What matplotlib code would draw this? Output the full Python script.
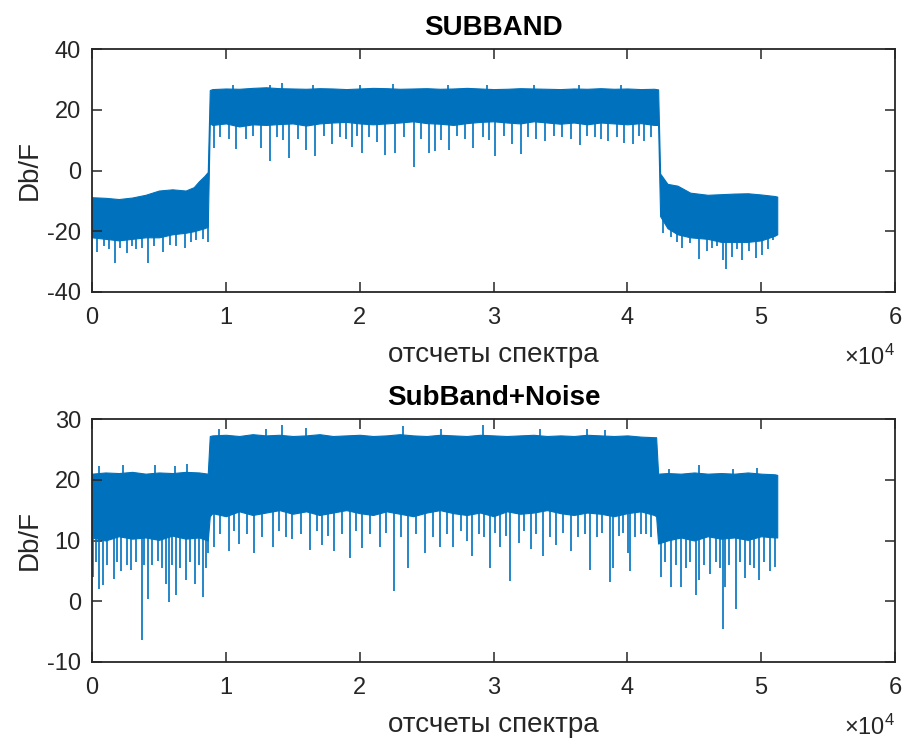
import numpy as np
import matplotlib
matplotlib.use("Agg")
import matplotlib.pyplot as plt

plt.rcParams['font.family'] = ['Liberation Sans', 'DejaVu Sans']
plt.rcParams['mathtext.fontset'] = 'custom'
plt.rcParams['mathtext.rm'] = 'Liberation Sans'
plt.rcParams['mathtext.it'] = 'Liberation Sans'
plt.rcParams['axes.unicode_minus'] = False

# ---------------- data (sample index -> dB) ----------------
N_SAMPLES = 51200

# SUBBAND panel: envelope knots of the dense trace
sub_x = [0, 1000, 2000, 3000, 4000, 5000, 6000, 7000, 7600, 8000, 8400, 8650,
         8800, 9000, 10000, 11000, 12000, 13000, 14000, 15000, 16000, 17000, 18000,
         19000, 20000, 21000, 22000, 23000, 24000, 25000, 26000, 27000, 28000,
         29000, 30000, 31000, 32000, 33000, 34000, 35000, 36000, 37000, 38000,
         39000, 40000, 41000, 42000, 42300,
         42450, 43000, 43750, 44700, 46000, 47000, 48000, 49000, 50000, 51000, 51200]
sub_hi = [-8.8, -9.0, -9.4, -8.9, -8.0, -6.6, -6.2, -6.6, -5.5, -3.5, -1.8, -0.5,
          26.5, 26.8, 27.0, 26.9, 27.2, 27.4, 27.1, 27.0, 26.9, 27.1, 27.0,
          26.8, 27.0, 27.2, 27.1, 26.9, 27.0, 27.1, 26.9, 27.0, 27.2,
          27.0, 26.8, 26.9, 27.1, 27.0, 26.9, 26.8, 27.0, 26.9, 27.1,
          26.9, 27.0, 26.8, 26.9, 26.7,
          -1.0, -4.4, -5.0, -7.3, -8.0, -7.8, -7.6, -7.5, -7.9, -8.4, -8.6]
sub_lo = [-22.0, -22.5, -23.0, -22.5, -22.0, -22.0, -21.0, -20.5, -20.0, -19.5, -19.0, -18.5,
          15.5, 15.0, 15.5, 14.5, 15.2, 15.0, 15.3, 15.5, 14.8, 15.5, 15.8,
          16.0, 15.5, 15.2, 15.5, 15.8, 16.2, 15.6, 15.4, 15.0, 15.6,
          16.0, 16.2, 15.8, 15.5, 16.2, 15.8, 15.4, 15.8, 15.2, 15.8,
          15.5, 15.2, 15.6, 15.0, 15.0,
          -15.0, -19.0, -21.0, -22.0, -22.5, -23.5, -23.5, -23.5, -23.0, -21.5, -21.0]
# downward spikes (sample, dB)
sub_dip_x = [400, 900, 1300, 1710, 2100, 2580, 3000, 3300, 3700, 4190, 4600, 5310,
             5800, 6300, 6920, 7400, 7800, 8300, 8660,
             9150, 9600, 10200, 10770, 11500, 12000, 12630, 13290, 13800, 14300, 14730,
             15400, 15970, 16670, 17300, 17940, 18500, 19000, 19420, 19800,
             20140, 20700, 21260, 21930, 22670, 23300, 24080, 24600, 25200, 25650,
             26100, 26640, 27300, 27900, 28500, 29200, 29700, 30110, 30800,
             31400, 32070, 32600, 33200, 33830, 34500, 35100, 35800, 36480, 37000,
             37600, 38000, 38540, 39200, 39780, 40400, 40900, 41270, 41800,
             42630, 43250, 43700, 44120, 44700, 45360, 45980, 46300, 46680, 47150,
             47350, 47840, 48200, 48590, 49100, 49580, 50070, 50500, 50890]
sub_dip_y = [-26.7, -25.0, -26.0, -30.5, -25.5, -27.3, -25.0, -26.0, -25.5, -30.5, -25.0, -26.7,
             -24.5, -25.0, -25.4, -23.5, -23.0, -22.5, -23.5,
             7.4, 11.0, 10.5, 7.2, 10.5, 11.5, 7.4, 3.2, 11.0, 10.0, 4.2,
             10.5, 6.8, 4.9, 11.5, 8.8, 11.0, 10.5, 7.6, 11.5,
             5.6, 11.0, 9.3, 5.2, 5.7, 11.0, 1.1, 10.5, 5.7, 6.4,
             10.0, 6.7, 11.5, 10.5, 7.4, 11.0, 10.0, 4.9, 11.5,
             8.8, 5.4, 11.0, 10.5, 9.8, 11.5, 11.0, 10.5, 8.5, 11.5,
             11.0, 10.5, 9.6, 11.0, 9.2, 8.8, 11.5, 9.8, 11.0,
             -20.7, -21.8, -23.5, -25.6, -24.0, -29.2, -26.4, -25.5, -24.9, -29.4,
             -32.5, -28.4, -26.0, -29.4, -26.5, -28.9, -27.8, -26.0, -22.9]
# upward spikes (sample, dB)
sub_pk_x = [10500, 13300, 14200, 16500, 20000, 22500, 26600, 29500, 33000, 36400, 39500]
sub_pk_y = [28.0, 28.3, 28.8, 28.2, 28.0, 28.5, 28.0, 28.2, 28.0, 28.0, 28.2]

# SubBand+Noise panel
noi_x = [0, 1000, 2000, 3000, 4000, 5000, 6000, 7000, 8000, 8650,
         8800, 9000, 10000, 11000, 12000, 13000, 14000, 15000, 16000, 17000, 18000,
         19000, 20000, 21000, 22000, 23000, 24000, 25000, 26000, 27000, 28000,
         29000, 30000, 31000, 32000, 33000, 34000, 35000, 36000, 37000, 38000,
         39000, 40000, 41000, 42000, 42150,
         42300, 43000, 44000, 45000, 46000, 47000, 48000, 49000, 50000, 51000, 51200]
noi_hi = [21.0, 21.2, 21.1, 21.3, 21.0, 21.2, 21.1, 21.3, 21.2, 21.0,
          27.2, 27.3, 27.4, 27.2, 27.5, 27.3, 27.4, 27.2, 27.3, 27.5, 27.2,
          27.3, 27.4, 27.2, 27.3, 27.5, 27.3, 27.2, 27.4, 27.3, 27.2,
          27.4, 27.3, 27.2, 27.3, 27.4, 27.2, 27.3, 27.2, 27.4, 27.3,
          27.2, 27.3, 27.1, 27.0, 27.0,
          21.0, 21.1, 21.0, 21.2, 21.0, 21.1, 21.0, 21.2, 21.0, 20.9, 20.8]
noi_lo = [10.5, 10.0, 10.7, 10.3, 10.5, 10.1, 10.8, 10.3, 10.5, 10.0,
          14.0, 14.5, 14.0, 14.8, 14.2, 14.6, 15.0, 14.4, 14.8, 14.2, 14.6,
          15.0, 14.5, 14.2, 14.8, 14.4, 14.0, 14.6, 15.0, 14.5, 14.2,
          14.6, 14.0, 14.8, 14.4, 14.6, 15.0, 14.5, 14.2, 14.6, 14.4,
          14.0, 14.5, 14.8, 14.2, 14.0,
          9.5, 10.0, 10.5, 10.0, 10.7, 10.3, 10.5, 10.1, 10.7, 10.5, 10.5]
noi_dip_x = [50, 300, 520, 790, 1100, 1640, 1900, 2200, 2600, 2950, 3300, 3700, 3900,
             4170, 4500, 4930, 5200, 5560, 5730, 6000, 6250, 6600, 7050, 7300, 7660,
             8000, 8280, 8500, 8700,
             9150, 9600, 10270, 10600, 11000, 11600, 12130, 12700, 13500, 14000, 14500,
             14980, 15600, 16300, 16800, 17200, 17600, 18080, 18700, 19250, 19700, 20190,
             20800, 21500, 22000, 22600, 23100, 23580, 24200, 24900, 25500, 26000,
             26500, 27010, 27600, 28000, 28370, 28900, 29300, 29740, 30100, 30500,
             30900, 31270, 31900, 32300, 32800, 33200, 33700, 34200, 34700, 35200,
             35760, 36300, 36800, 37180, 37700, 38100, 38670, 38910, 39400, 39700,
             40030, 40200, 40600, 41000, 41390, 41800,
             42510, 42800, 43250, 43600, 44000, 44400, 44700, 45110, 45360, 45700,
             46200, 46600, 46900, 47170, 47320, 47600, 48090, 48400, 48760, 49200,
             49500, 49830, 50200, 50690, 51060]
noi_dip_y = [4.0, 6.5, 2.0, 2.6, 6.0, 3.6, 6.5, 5.0, 6.0, 5.1, 6.5, -6.3, 6.0,
             0.3, 6.0, 6.7, 5.5, 2.8, -0.1, 6.0, 1.0, 5.5, 3.5, 6.5, 2.8,
             6.0, 0.7, 5.5, 7.9,
             9.0, 11.0, 8.2, 11.5, 9.5, 11.0, 8.0, 10.5, 9.0, 11.5, 10.5,
             10.2, 11.0, 8.5, 11.5, 9.2, 10.8, 8.2, 11.0, 7.1, 11.5, 8.7,
             11.0, 9.0, 11.2, 1.7, 10.5, 5.4, 11.0, 7.9, 10.5, 9.0,
             11.0, 8.9, 11.5, 10.0, 7.4, 11.0, 10.5, 5.5, 11.2, 9.0,
             10.8, 3.3, 9.6, 11.5, 8.6, 11.0, 7.5, 10.5, 9.3, 11.2,
             8.2, 10.5, 11.0, 5.1, 10.5, 11.2, 3.1, 5.4, 10.8, 11.2,
             8.0, 4.9, 10.5, 11.0, 11.0, 10.5,
             4.0, 6.5, 2.4, 6.0, 2.4, 5.5, 6.5, 1.0, 3.5, 6.0,
             4.5, 6.5, 5.5, -4.5, 2.3, 6.0, -1.3, 6.5, 3.9, 6.0,
             5.5, 3.5, 6.5, 4.9, 5.6]
noi_pk_x = [500, 2300, 4700, 6200, 7100, 9500, 13000, 14190, 16000, 23210, 26100,
            29240, 33500, 37000, 38300, 43100, 45360, 47900, 49700]
noi_pk_y = [22.3, 22.5, 22.4, 22.3, 22.6, 28.3, 28.4, 29.0, 28.6, 28.8, 28.3,
            29.0, 28.4, 28.3, 28.2, 21.7, 22.4, 21.7, 22.0]

titles = ['SUBBAND', 'SubBand+Noise']
ylims = [(-40, 40), (-10, 30)]
yticks = [[-40, -20, 0, 20, 40], [-10, 0, 10, 20, 30]]
xticks = [0, 10000, 20000, 30000, 40000, 50000, 60000]
xticklabels = ['0', '1', '2', '3', '4', '5', '6']
xlabel_text = 'отсчеты спектра'
ylabel_text = 'Db/F'

# ---------------- drawing ----------------
C = '#0072BD'
INK = '#262626'
W, H = 904, 740
fig = plt.figure(figsize=(W / 100, H / 100), dpi=100)

def px_axes(l, t, r, b):
    return fig.add_axes([l / W, 1 - b / H, (r - l) / W, (b - t) / H])

ax1 = px_axes(92, 49, 895, 292)
ax2 = px_axes(92, 419, 895, 662)

panels = [
    (ax1, sub_x, sub_hi, sub_lo, sub_dip_x, sub_dip_y, sub_pk_x, sub_pk_y),
    (ax2, noi_x, noi_hi, noi_lo, noi_dip_x, noi_dip_y, noi_pk_x, noi_pk_y),
]

for i, (ax, kx, hi, lo, dx, dy, pkx, pky) in enumerate(panels):
    ax.fill_between(kx, lo, hi, color=C, lw=0.8, edgecolor=C)
    dtop = np.interp(dx, kx, lo) + 1.0
    ax.vlines(dx, dy, dtop, color=C, lw=1.2)
    pbot = np.interp(pkx, kx, hi) - 1.0
    ax.vlines(pkx, pbot, pky, color=C, lw=1.2)

    ax.set_xlim(0, 60000)
    ax.set_ylim(*ylims[i])
    ax.set_xticks(xticks)
    ax.set_xticklabels(xticklabels)
    ax.set_yticks(yticks[i])
    ax.tick_params(direction='in', length=7, width=1.1, colors=INK,
                   labelsize=17, top=True, right=True)
    ax.tick_params(axis='x', pad=11)
    ax.tick_params(axis='y', pad=8)
    for s in ax.spines.values():
        s.set_color(INK)
        s.set_linewidth(1.3)
    ax.set_title(titles[i], fontsize=20, fontweight='bold', color='black',
                 pad=10 if i == 0 else 10)
    ax.set_xlabel(xlabel_text, fontsize=20, color=INK, labelpad=9)
    ax.set_ylabel(ylabel_text, fontsize=20, color=INK, labelpad=3)
    ax.text(1.0, -0.30, r'$\times\mathregular{10^{4}}$', transform=ax.transAxes,
            ha='right', va='baseline', fontsize=17, color=INK)

fig.savefig('out.png', dpi=100)
